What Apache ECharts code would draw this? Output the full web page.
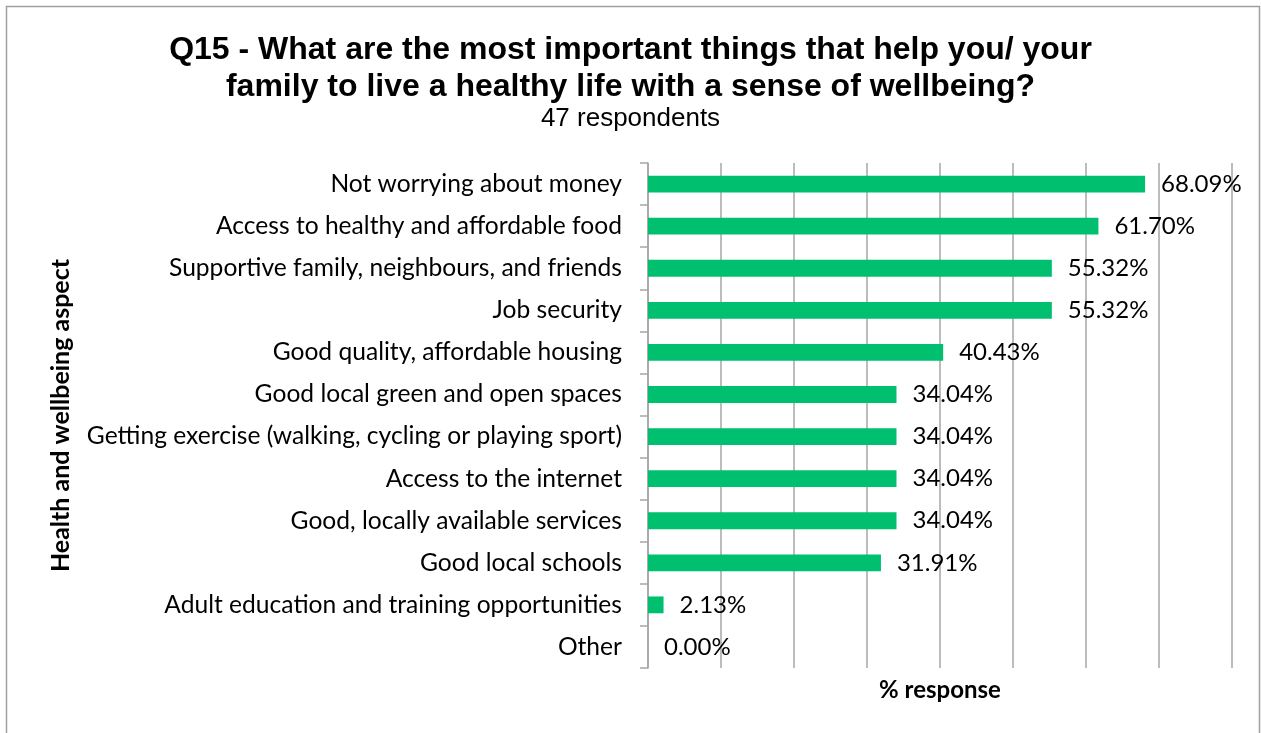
<!DOCTYPE html>
<html>
<head>
<meta charset="utf-8">
<script src="https://cdn.jsdelivr.net/npm/echarts@6/dist/echarts.min.js"></script>
<style>
  html, body { margin: 0; padding: 0; background: #ffffff; }
  #chart { width: 1261px; height: 733px; }
</style>
</head>
<body>
<div id="chart"></div>
<script>
// Survey responses, listed top to bottom
const categories = [
  'Not worrying about money',
  'Access to healthy and affordable food',
  'Supportive family, neighbours, and friends',
  'Job security',
  'Good quality, affordable housing',
  'Good local green and open spaces',
  'Getting exercise (walking, cycling or playing sport)',
  'Access to the internet',
  'Good, locally available services',
  'Good local schools',
  'Adult education and training opportunities',
  'Other'
];
const percentResponse = [68.09, 61.70, 55.32, 55.32, 40.43, 34.04, 34.04, 34.04, 34.04, 31.91, 2.13, 0.00];

const titleText = 'Q15 - What are the most important things that help you/ your\nfamily to live a healthy life with a sense of wellbeing?';
const subtitleText = '47 respondents';

const bodyFont = 'Lato, "Open Sans", sans-serif';
const gridGray = '#a6a6a6';

const chart = echarts.init(document.getElementById('chart'), null, { renderer: 'canvas' });

chart.setOption({
  backgroundColor: '#ffffff',
  animation: false,
  graphic: [{
    type: 'rect',
    shape: { x: 6.5, y: 6.5, width: 1253, height: 760 },
    style: { fill: 'none', stroke: '#a0a0a0', lineWidth: 1.5 },
    silent: true
  }],
  title: {
    text: titleText,
    subtext: subtitleText,
    left: 'center',
    top: 27,
    itemGap: 0,
    textStyle: {
      fontFamily: '"Liberation Sans", Arial, sans-serif',
      fontWeight: 'bold',
      fontSize: 32,
      lineHeight: 37,
      color: '#000000'
    },
    subtextStyle: {
      fontFamily: '"Liberation Sans", Arial, sans-serif',
      fontSize: 26,
      color: '#000000'
    }
  },
  grid: {
    left: 648,
    right: 29,
    top: 163,
    bottom: 65,
    containLabel: false
  },
  xAxis: {
    type: 'value',
    min: 0,
    max: 80,
    interval: 10,
    name: '% response',
    nameLocation: 'middle',
    nameGap: 10,
    nameTextStyle: {
      fontFamily: bodyFont,
      fontWeight: 'bold',
      fontSize: 24,
      color: '#000000'
    },
    axisLine: { show: false },
    axisTick: { show: false },
    axisLabel: { show: false },
    splitLine: { show: true, lineStyle: { color: gridGray, width: 1.5 } }
  },
  yAxis: {
    type: 'category',
    data: categories,
    inverse: true,
    name: 'Health and wellbeing aspect',
    nameLocation: 'middle',
    nameGap: 575,
    nameRotate: 90,
    nameTextStyle: {
      fontFamily: bodyFont,
      fontWeight: 'bold',
      fontSize: 25,
      color: '#000000'
    },
    axisLine: { show: true, lineStyle: { color: gridGray, width: 1.5 } },
    axisTick: { show: true, length: 8, lineStyle: { color: gridGray, width: 1.5 } },
    axisLabel: {
      margin: 26,
      fontFamily: bodyFont,
      fontSize: 24.6,
      color: '#000000'
    },
    splitLine: { show: false }
  },
  series: [{
    type: 'bar',
    data: percentResponse,
    barCategoryGap: '60%',
    itemStyle: { color: '#00bf6f' },
    label: {
      show: true,
      position: 'right',
      distance: 16,
      fontFamily: bodyFont,
      fontSize: 24,
      color: '#000000',
      formatter: p => p.value.toFixed(2) + '%'
    }
  }]
});
</script>
</body>
</html>
